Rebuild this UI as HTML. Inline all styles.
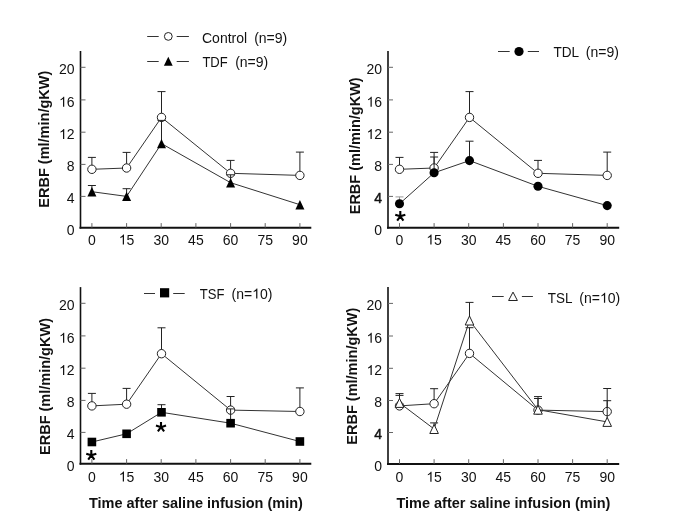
<!DOCTYPE html><html><head><meta charset="utf-8"><style>html,body{margin:0;padding:0;background:#fff;}svg{display:block;will-change:transform;}</style></head><body>
<svg width="685" height="527" viewBox="0 0 685 527" font-family='"Liberation Sans", sans-serif' fill="#111">
<rect width="685" height="527" fill="#fff"/>
<line x1="80.5" y1="51.0" x2="80.5" y2="228.6" stroke="#111" stroke-width="1.6"/>
<line x1="79.5" y1="227.8" x2="311.3" y2="227.8" stroke="#111" stroke-width="2"/>
<line x1="80.5" y1="196.4" x2="85.5" y2="196.4" stroke="#666" stroke-width="1"/>
<line x1="80.5" y1="164.4" x2="85.5" y2="164.4" stroke="#666" stroke-width="1"/>
<line x1="80.5" y1="132.2" x2="85.5" y2="132.2" stroke="#666" stroke-width="1"/>
<line x1="80.5" y1="99.9" x2="85.5" y2="99.9" stroke="#666" stroke-width="1"/>
<line x1="80.5" y1="67.3" x2="85.5" y2="67.3" stroke="#666" stroke-width="1"/>
<line x1="91.9" y1="227.6" x2="91.9" y2="223.1" stroke="#666" stroke-width="1"/>
<line x1="126.6" y1="227.6" x2="126.6" y2="223.1" stroke="#666" stroke-width="1"/>
<line x1="161.2" y1="227.6" x2="161.2" y2="223.1" stroke="#666" stroke-width="1"/>
<line x1="195.9" y1="227.6" x2="195.9" y2="223.1" stroke="#666" stroke-width="1"/>
<line x1="230.6" y1="227.6" x2="230.6" y2="223.1" stroke="#666" stroke-width="1"/>
<line x1="265.2" y1="227.6" x2="265.2" y2="223.1" stroke="#666" stroke-width="1"/>
<line x1="299.9" y1="227.6" x2="299.9" y2="223.1" stroke="#666" stroke-width="1"/>
<text x="66.81" y="234.60" font-size="14" xml:space="preserve">0</text>
<text x="66.81" y="203.20" font-size="14" xml:space="preserve">4</text>
<text x="66.81" y="171.20" font-size="14" xml:space="preserve">8</text>
<path d="M763 0L583 0L583 1147Q518 1085 412 1023Q306 961 222 930L222 1104Q373 1175 486 1276Q599 1377 646 1472L763 1472Z" transform="translate(59.03,139.00) scale(0.00684,-0.00684)" fill="#111"/>
<text x="66.81" y="139.00" font-size="14" xml:space="preserve">2</text>
<path d="M763 0L583 0L583 1147Q518 1085 412 1023Q306 961 222 930L222 1104Q373 1175 486 1276Q599 1377 646 1472L763 1472Z" transform="translate(59.03,106.70) scale(0.00684,-0.00684)" fill="#111"/>
<text x="66.81" y="106.70" font-size="14" xml:space="preserve">6</text>
<text x="59.03" y="74.10" font-size="14" xml:space="preserve">20</text>
<text x="88.01" y="244.60" font-size="14" xml:space="preserve">0</text>
<path d="M763 0L583 0L583 1147Q518 1085 412 1023Q306 961 222 930L222 1104Q373 1175 486 1276Q599 1377 646 1472L763 1472Z" transform="translate(118.78,244.60) scale(0.00684,-0.00684)" fill="#111"/>
<text x="126.56" y="244.60" font-size="14" xml:space="preserve">5</text>
<text x="153.44" y="244.60" font-size="14" xml:space="preserve">30</text>
<text x="188.11" y="244.60" font-size="14" xml:space="preserve">45</text>
<text x="222.77" y="244.60" font-size="14" xml:space="preserve">60</text>
<text x="257.44" y="244.60" font-size="14" xml:space="preserve">75</text>
<text x="292.10" y="244.60" font-size="14" xml:space="preserve">90</text>
<text transform="translate(49.2,139.2) rotate(-90)" font-size="14.5" font-weight="bold" text-anchor="middle">ERBF (ml/min/gKW)</text>
<line x1="91.9" y1="169.3" x2="91.9" y2="157.4" stroke="#222" stroke-width="1"/>
<line x1="87.9" y1="157.4" x2="95.9" y2="157.4" stroke="#222" stroke-width="1"/>
<line x1="126.6" y1="168.0" x2="126.6" y2="152.4" stroke="#222" stroke-width="1"/>
<line x1="122.6" y1="152.4" x2="130.6" y2="152.4" stroke="#222" stroke-width="1"/>
<line x1="161.5" y1="117.4" x2="161.5" y2="91.6" stroke="#222" stroke-width="1"/>
<line x1="157.5" y1="91.6" x2="165.5" y2="91.6" stroke="#222" stroke-width="1"/>
<line x1="230.6" y1="173.3" x2="230.6" y2="160.4" stroke="#222" stroke-width="1"/>
<line x1="226.6" y1="160.4" x2="234.6" y2="160.4" stroke="#222" stroke-width="1"/>
<line x1="299.9" y1="175.4" x2="299.9" y2="152.1" stroke="#222" stroke-width="1"/>
<line x1="295.9" y1="152.1" x2="303.9" y2="152.1" stroke="#222" stroke-width="1"/>
<polyline points="91.9,169.3 126.6,168.0 161.5,117.4 230.6,173.3 299.9,175.4" fill="none" stroke="#333" stroke-width="1"/>
<circle cx="91.9" cy="169.3" r="4.2" fill="#fff" stroke="#222" stroke-width="1"/>
<circle cx="126.6" cy="168.0" r="4.2" fill="#fff" stroke="#222" stroke-width="1"/>
<circle cx="161.5" cy="117.4" r="4.2" fill="#fff" stroke="#222" stroke-width="1"/>
<circle cx="230.6" cy="173.3" r="4.2" fill="#fff" stroke="#222" stroke-width="1"/>
<circle cx="299.9" cy="175.4" r="4.2" fill="#fff" stroke="#222" stroke-width="1"/>
<line x1="91.9" y1="191.7" x2="91.9" y2="185.5" stroke="#222" stroke-width="1"/>
<line x1="87.9" y1="185.5" x2="95.9" y2="185.5" stroke="#222" stroke-width="1"/>
<line x1="126.6" y1="196.4" x2="126.6" y2="188.7" stroke="#222" stroke-width="1"/>
<line x1="122.6" y1="188.7" x2="130.6" y2="188.7" stroke="#222" stroke-width="1"/>
<line x1="161.5" y1="143.6" x2="161.5" y2="120.4" stroke="#222" stroke-width="1"/>
<line x1="157.5" y1="120.4" x2="165.5" y2="120.4" stroke="#222" stroke-width="1"/>
<line x1="230.6" y1="182.7" x2="230.6" y2="174.8" stroke="#222" stroke-width="1"/>
<line x1="226.6" y1="174.8" x2="234.6" y2="174.8" stroke="#222" stroke-width="1"/>
<polyline points="91.9,191.7 126.6,196.4 161.5,143.6 230.6,182.7 299.9,204.7" fill="none" stroke="#333" stroke-width="1"/>
<polygon points="87.4,196.4 96.4,196.4 91.9,187.0" fill="#000"/>
<polygon points="122.1,201.1 131.1,201.1 126.6,191.7" fill="#000"/>
<polygon points="157.0,148.3 166.0,148.3 161.5,138.9" fill="#000"/>
<polygon points="226.1,187.4 235.1,187.4 230.6,178.0" fill="#000"/>
<polygon points="295.4,209.4 304.4,209.4 299.9,200.0" fill="#000"/>
<line x1="147.2" y1="36.5" x2="158.7" y2="36.5" stroke="#333" stroke-width="1"/>
<circle cx="168.3" cy="36.4" r="3.9" fill="#fff" stroke="#222" stroke-width="1"/>
<line x1="176.7" y1="36.5" x2="188.9" y2="36.5" stroke="#333" stroke-width="1"/>
<text transform="translate(201.99,42.90) scale(1.0004,1)" font-size="14">Control</text>
<text x="254.13" y="42.90" font-size="14" xml:space="preserve">(n=9)</text>
<line x1="147.2" y1="61.5" x2="158.7" y2="61.5" stroke="#333" stroke-width="1"/>
<polygon points="163.9,65.8 172.7,65.8 168.3,56.8" fill="#000"/>
<line x1="176.7" y1="61.5" x2="188.9" y2="61.5" stroke="#333" stroke-width="1"/>
<text transform="translate(202.41,67.20) scale(0.9302,1)" font-size="14">TDF</text>
<text x="235.13" y="67.20" font-size="14" xml:space="preserve">(n=9)</text>
<line x1="388.0" y1="51.0" x2="388.0" y2="228.6" stroke="#111" stroke-width="1.6"/>
<line x1="387.0" y1="227.8" x2="619.2" y2="227.8" stroke="#111" stroke-width="2"/>
<line x1="388.0" y1="196.4" x2="393.0" y2="196.4" stroke="#666" stroke-width="1"/>
<line x1="388.0" y1="164.4" x2="393.0" y2="164.4" stroke="#666" stroke-width="1"/>
<line x1="388.0" y1="132.2" x2="393.0" y2="132.2" stroke="#666" stroke-width="1"/>
<line x1="388.0" y1="99.9" x2="393.0" y2="99.9" stroke="#666" stroke-width="1"/>
<line x1="388.0" y1="67.3" x2="393.0" y2="67.3" stroke="#666" stroke-width="1"/>
<line x1="399.5" y1="227.6" x2="399.5" y2="223.1" stroke="#666" stroke-width="1"/>
<line x1="434.1" y1="227.6" x2="434.1" y2="223.1" stroke="#666" stroke-width="1"/>
<line x1="468.7" y1="227.6" x2="468.7" y2="223.1" stroke="#666" stroke-width="1"/>
<line x1="503.4" y1="227.6" x2="503.4" y2="223.1" stroke="#666" stroke-width="1"/>
<line x1="538.0" y1="227.6" x2="538.0" y2="223.1" stroke="#666" stroke-width="1"/>
<line x1="572.6" y1="227.6" x2="572.6" y2="223.1" stroke="#666" stroke-width="1"/>
<line x1="607.2" y1="227.6" x2="607.2" y2="223.1" stroke="#666" stroke-width="1"/>
<text x="374.31" y="234.60" font-size="14" xml:space="preserve">0</text>
<text x="374.31" y="203.20" font-size="14" xml:space="preserve" stroke="#111" stroke-width="0.45">4</text>
<text x="374.31" y="171.20" font-size="14" xml:space="preserve">8</text>
<path d="M763 0L583 0L583 1147Q518 1085 412 1023Q306 961 222 930L222 1104Q373 1175 486 1276Q599 1377 646 1472L763 1472Z" transform="translate(366.53,139.00) scale(0.00684,-0.00684)" fill="#111"/>
<text x="374.31" y="139.00" font-size="14" xml:space="preserve">2</text>
<path d="M763 0L583 0L583 1147Q518 1085 412 1023Q306 961 222 930L222 1104Q373 1175 486 1276Q599 1377 646 1472L763 1472Z" transform="translate(366.53,106.70) scale(0.00684,-0.00684)" fill="#111"/>
<text x="374.31" y="106.70" font-size="14" xml:space="preserve">6</text>
<text x="366.53" y="74.10" font-size="14" xml:space="preserve">20</text>
<text x="395.61" y="244.60" font-size="14" xml:space="preserve">0</text>
<path d="M763 0L583 0L583 1147Q518 1085 412 1023Q306 961 222 930L222 1104Q373 1175 486 1276Q599 1377 646 1472L763 1472Z" transform="translate(426.33,244.60) scale(0.00684,-0.00684)" fill="#111"/>
<text x="434.12" y="244.60" font-size="14" xml:space="preserve">5</text>
<text x="460.95" y="244.60" font-size="14" xml:space="preserve">30</text>
<text x="495.57" y="244.60" font-size="14" xml:space="preserve">45</text>
<text x="530.19" y="244.60" font-size="14" xml:space="preserve">60</text>
<text x="564.81" y="244.60" font-size="14" xml:space="preserve">75</text>
<text x="599.43" y="244.60" font-size="14" xml:space="preserve">90</text>
<text transform="translate(359.8,145.8) rotate(-90)" font-size="14.5" font-weight="bold" text-anchor="middle">ERBF (ml/min/gKW)</text>
<line x1="399.5" y1="169.3" x2="399.5" y2="157.4" stroke="#222" stroke-width="1"/>
<line x1="395.5" y1="157.4" x2="403.5" y2="157.4" stroke="#222" stroke-width="1"/>
<line x1="434.1" y1="168.0" x2="434.1" y2="152.4" stroke="#222" stroke-width="1"/>
<line x1="430.1" y1="152.4" x2="438.1" y2="152.4" stroke="#222" stroke-width="1"/>
<line x1="469.5" y1="117.4" x2="469.5" y2="91.6" stroke="#222" stroke-width="1"/>
<line x1="465.5" y1="91.6" x2="473.5" y2="91.6" stroke="#222" stroke-width="1"/>
<line x1="538.0" y1="173.3" x2="538.0" y2="160.4" stroke="#222" stroke-width="1"/>
<line x1="534.0" y1="160.4" x2="542.0" y2="160.4" stroke="#222" stroke-width="1"/>
<line x1="607.2" y1="175.4" x2="607.2" y2="152.1" stroke="#222" stroke-width="1"/>
<line x1="603.2" y1="152.1" x2="611.2" y2="152.1" stroke="#222" stroke-width="1"/>
<polyline points="399.5,169.3 434.1,168.0 469.5,117.4 538.0,173.3 607.2,175.4" fill="none" stroke="#333" stroke-width="1"/>
<circle cx="399.5" cy="169.3" r="4.2" fill="#fff" stroke="#222" stroke-width="1"/>
<circle cx="434.1" cy="168.0" r="4.2" fill="#fff" stroke="#222" stroke-width="1"/>
<circle cx="469.5" cy="117.4" r="4.2" fill="#fff" stroke="#222" stroke-width="1"/>
<circle cx="538.0" cy="173.3" r="4.2" fill="#fff" stroke="#222" stroke-width="1"/>
<circle cx="607.2" cy="175.4" r="4.2" fill="#fff" stroke="#222" stroke-width="1"/>
<line x1="399.5" y1="203.8" x2="399.5" y2="196.9" stroke="#999" stroke-width="1"/>
<line x1="395.5" y1="196.9" x2="403.5" y2="196.9" stroke="#999" stroke-width="1"/>
<line x1="434.1" y1="172.8" x2="434.1" y2="157.0" stroke="#222" stroke-width="1"/>
<line x1="430.1" y1="157.0" x2="438.1" y2="157.0" stroke="#222" stroke-width="1"/>
<line x1="469.5" y1="160.6" x2="469.5" y2="141.2" stroke="#222" stroke-width="1"/>
<line x1="465.5" y1="141.2" x2="473.5" y2="141.2" stroke="#222" stroke-width="1"/>
<polyline points="399.5,203.8 434.1,172.8 469.5,160.6 538.0,186.3 607.2,205.6" fill="none" stroke="#333" stroke-width="1"/>
<circle cx="399.5" cy="203.8" r="4.55" fill="#000"/>
<circle cx="434.1" cy="172.8" r="4.55" fill="#000"/>
<circle cx="469.5" cy="160.6" r="4.55" fill="#000"/>
<circle cx="538.0" cy="186.3" r="4.55" fill="#000"/>
<circle cx="607.2" cy="205.6" r="4.55" fill="#000"/>
<path d="M400.30,216.30L400.30,211.00M400.30,216.30L405.34,214.66M400.30,216.30L395.26,214.66M400.30,216.30L403.42,220.59M400.30,216.30L397.18,220.59" stroke="#000" stroke-width="2.1" fill="none"/>
<line x1="498.0" y1="51.5" x2="509.7" y2="51.5" stroke="#333" stroke-width="1"/>
<circle cx="519.0" cy="51.5" r="4.6" fill="#000"/>
<line x1="527.8" y1="51.5" x2="539.0" y2="51.5" stroke="#333" stroke-width="1"/>
<text transform="translate(553.49,57.40) scale(0.9700,1)" font-size="14">TDL</text>
<text x="585.83" y="57.40" font-size="14" xml:space="preserve">(n=9)</text>
<line x1="80.5" y1="287.1" x2="80.5" y2="464.6" stroke="#111" stroke-width="1.6"/>
<line x1="79.5" y1="463.8" x2="311.3" y2="463.8" stroke="#111" stroke-width="2"/>
<line x1="80.5" y1="432.4" x2="85.5" y2="432.4" stroke="#666" stroke-width="1"/>
<line x1="80.5" y1="400.4" x2="85.5" y2="400.4" stroke="#666" stroke-width="1"/>
<line x1="80.5" y1="368.2" x2="85.5" y2="368.2" stroke="#666" stroke-width="1"/>
<line x1="80.5" y1="335.9" x2="85.5" y2="335.9" stroke="#666" stroke-width="1"/>
<line x1="80.5" y1="303.3" x2="85.5" y2="303.3" stroke="#666" stroke-width="1"/>
<line x1="91.9" y1="463.6" x2="91.9" y2="459.1" stroke="#666" stroke-width="1"/>
<line x1="126.6" y1="463.6" x2="126.6" y2="459.1" stroke="#666" stroke-width="1"/>
<line x1="161.2" y1="463.6" x2="161.2" y2="459.1" stroke="#666" stroke-width="1"/>
<line x1="195.9" y1="463.6" x2="195.9" y2="459.1" stroke="#666" stroke-width="1"/>
<line x1="230.6" y1="463.6" x2="230.6" y2="459.1" stroke="#666" stroke-width="1"/>
<line x1="265.2" y1="463.6" x2="265.2" y2="459.1" stroke="#666" stroke-width="1"/>
<line x1="299.9" y1="463.6" x2="299.9" y2="459.1" stroke="#666" stroke-width="1"/>
<text x="66.81" y="470.60" font-size="14" xml:space="preserve">0</text>
<text x="66.81" y="439.20" font-size="14" xml:space="preserve">4</text>
<text x="66.81" y="407.20" font-size="14" xml:space="preserve">8</text>
<path d="M763 0L583 0L583 1147Q518 1085 412 1023Q306 961 222 930L222 1104Q373 1175 486 1276Q599 1377 646 1472L763 1472Z" transform="translate(59.03,375.00) scale(0.00684,-0.00684)" fill="#111"/>
<text x="66.81" y="375.00" font-size="14" xml:space="preserve">2</text>
<path d="M763 0L583 0L583 1147Q518 1085 412 1023Q306 961 222 930L222 1104Q373 1175 486 1276Q599 1377 646 1472L763 1472Z" transform="translate(59.03,342.70) scale(0.00684,-0.00684)" fill="#111"/>
<text x="66.81" y="342.70" font-size="14" xml:space="preserve">6</text>
<text x="59.03" y="310.10" font-size="14" xml:space="preserve">20</text>
<text x="88.01" y="481.60" font-size="14" xml:space="preserve">0</text>
<path d="M763 0L583 0L583 1147Q518 1085 412 1023Q306 961 222 930L222 1104Q373 1175 486 1276Q599 1377 646 1472L763 1472Z" transform="translate(118.78,481.60) scale(0.00684,-0.00684)" fill="#111"/>
<text x="126.56" y="481.60" font-size="14" xml:space="preserve">5</text>
<text x="153.44" y="481.60" font-size="14" xml:space="preserve">30</text>
<text x="188.11" y="481.60" font-size="14" xml:space="preserve">45</text>
<text x="222.77" y="481.60" font-size="14" xml:space="preserve">60</text>
<text x="257.44" y="481.60" font-size="14" xml:space="preserve">75</text>
<text x="292.10" y="481.60" font-size="14" xml:space="preserve">90</text>
<text transform="translate(50.0,386.5) rotate(-90)" font-size="14.5" font-weight="bold" text-anchor="middle">ERBF (ml/min/gKW)</text>
<text x="195.9" y="507.6" font-size="14.5" font-weight="bold" text-anchor="middle">Time after saline infusion (min)</text>
<line x1="91.9" y1="405.9" x2="91.9" y2="393.4" stroke="#222" stroke-width="1"/>
<line x1="87.9" y1="393.4" x2="95.9" y2="393.4" stroke="#222" stroke-width="1"/>
<line x1="126.6" y1="404.2" x2="126.6" y2="388.4" stroke="#222" stroke-width="1"/>
<line x1="122.6" y1="388.4" x2="130.6" y2="388.4" stroke="#222" stroke-width="1"/>
<line x1="161.5" y1="353.7" x2="161.5" y2="327.8" stroke="#222" stroke-width="1"/>
<line x1="157.5" y1="327.8" x2="165.5" y2="327.8" stroke="#222" stroke-width="1"/>
<line x1="230.6" y1="410.1" x2="230.6" y2="396.5" stroke="#222" stroke-width="1"/>
<line x1="226.6" y1="396.5" x2="234.6" y2="396.5" stroke="#222" stroke-width="1"/>
<line x1="299.9" y1="411.5" x2="299.9" y2="387.9" stroke="#222" stroke-width="1"/>
<line x1="295.9" y1="387.9" x2="303.9" y2="387.9" stroke="#222" stroke-width="1"/>
<polyline points="91.9,405.9 126.6,404.2 161.5,353.7 230.6,410.1 299.9,411.5" fill="none" stroke="#333" stroke-width="1"/>
<circle cx="91.9" cy="405.9" r="4.2" fill="#fff" stroke="#222" stroke-width="1"/>
<circle cx="126.6" cy="404.2" r="4.2" fill="#fff" stroke="#222" stroke-width="1"/>
<circle cx="161.5" cy="353.7" r="4.2" fill="#fff" stroke="#222" stroke-width="1"/>
<circle cx="230.6" cy="410.1" r="4.2" fill="#fff" stroke="#222" stroke-width="1"/>
<circle cx="299.9" cy="411.5" r="4.2" fill="#fff" stroke="#222" stroke-width="1"/>
<line x1="161.5" y1="412.3" x2="161.5" y2="404.7" stroke="#222" stroke-width="1"/>
<line x1="157.5" y1="404.7" x2="165.5" y2="404.7" stroke="#222" stroke-width="1"/>
<line x1="230.6" y1="423.2" x2="230.6" y2="408.9" stroke="#222" stroke-width="1"/>
<line x1="226.6" y1="408.9" x2="234.6" y2="408.9" stroke="#222" stroke-width="1"/>
<polyline points="91.9,442.0 126.6,433.8 161.5,412.3 230.6,423.2 299.9,441.5" fill="none" stroke="#333" stroke-width="1"/>
<rect x="87.6" y="437.7" width="8.6" height="8.6" fill="#000"/>
<rect x="122.3" y="429.5" width="8.6" height="8.6" fill="#000"/>
<rect x="157.2" y="408.0" width="8.6" height="8.6" fill="#000"/>
<rect x="226.3" y="418.9" width="8.6" height="8.6" fill="#000"/>
<rect x="295.6" y="437.2" width="8.6" height="8.6" fill="#000"/>
<path d="M91.30,455.30L91.30,450.00M91.30,455.30L96.34,453.66M91.30,455.30L86.26,453.66M91.30,455.30L94.42,459.59M91.30,455.30L88.18,459.59" stroke="#000" stroke-width="2.1" fill="none"/>
<path d="M161.00,427.20L161.00,421.90M161.00,427.20L166.04,425.56M161.00,427.20L155.96,425.56M161.00,427.20L164.12,431.49M161.00,427.20L157.88,431.49" stroke="#000" stroke-width="2.1" fill="none"/>
<line x1="144.0" y1="293.5" x2="155.0" y2="293.5" stroke="#333" stroke-width="1"/>
<rect x="160.0" y="288.2" width="9.2" height="9.2" fill="#000"/>
<line x1="173.2" y1="293.5" x2="184.7" y2="293.5" stroke="#333" stroke-width="1"/>
<text transform="translate(199.81,298.60) scale(0.9348,1)" font-size="14">TSF</text>
<text x="231.53" y="298.60" font-size="14" xml:space="preserve">(n=</text>
<path d="M763 0L583 0L583 1147Q518 1085 412 1023Q306 961 222 930L222 1104Q373 1175 486 1276Q599 1377 646 1472L763 1472Z" transform="translate(252.16,298.60) scale(0.00684,-0.00684)" fill="#111"/>
<text x="259.94" y="298.60" font-size="14" xml:space="preserve">0)</text>
<line x1="388.0" y1="287.1" x2="388.0" y2="464.7" stroke="#111" stroke-width="1.6"/>
<line x1="387.0" y1="463.9" x2="619.2" y2="463.9" stroke="#111" stroke-width="2"/>
<line x1="388.0" y1="432.5" x2="393.0" y2="432.5" stroke="#666" stroke-width="1"/>
<line x1="388.0" y1="400.5" x2="393.0" y2="400.5" stroke="#666" stroke-width="1"/>
<line x1="388.0" y1="368.3" x2="393.0" y2="368.3" stroke="#666" stroke-width="1"/>
<line x1="388.0" y1="336.0" x2="393.0" y2="336.0" stroke="#666" stroke-width="1"/>
<line x1="388.0" y1="303.4" x2="393.0" y2="303.4" stroke="#666" stroke-width="1"/>
<line x1="399.5" y1="463.7" x2="399.5" y2="459.2" stroke="#666" stroke-width="1"/>
<line x1="434.1" y1="463.7" x2="434.1" y2="459.2" stroke="#666" stroke-width="1"/>
<line x1="468.7" y1="463.7" x2="468.7" y2="459.2" stroke="#666" stroke-width="1"/>
<line x1="503.4" y1="463.7" x2="503.4" y2="459.2" stroke="#666" stroke-width="1"/>
<line x1="538.0" y1="463.7" x2="538.0" y2="459.2" stroke="#666" stroke-width="1"/>
<line x1="572.6" y1="463.7" x2="572.6" y2="459.2" stroke="#666" stroke-width="1"/>
<line x1="607.2" y1="463.7" x2="607.2" y2="459.2" stroke="#666" stroke-width="1"/>
<text x="374.31" y="470.70" font-size="14" xml:space="preserve">0</text>
<text x="374.31" y="439.30" font-size="14" xml:space="preserve" stroke="#111" stroke-width="0.45">4</text>
<text x="374.31" y="407.30" font-size="14" xml:space="preserve">8</text>
<path d="M763 0L583 0L583 1147Q518 1085 412 1023Q306 961 222 930L222 1104Q373 1175 486 1276Q599 1377 646 1472L763 1472Z" transform="translate(366.53,375.10) scale(0.00684,-0.00684)" fill="#111"/>
<text x="374.31" y="375.10" font-size="14" xml:space="preserve">2</text>
<path d="M763 0L583 0L583 1147Q518 1085 412 1023Q306 961 222 930L222 1104Q373 1175 486 1276Q599 1377 646 1472L763 1472Z" transform="translate(366.53,342.80) scale(0.00684,-0.00684)" fill="#111"/>
<text x="374.31" y="342.80" font-size="14" xml:space="preserve">6</text>
<text x="366.53" y="310.20" font-size="14" xml:space="preserve">20</text>
<text x="395.61" y="481.70" font-size="14" xml:space="preserve">0</text>
<path d="M763 0L583 0L583 1147Q518 1085 412 1023Q306 961 222 930L222 1104Q373 1175 486 1276Q599 1377 646 1472L763 1472Z" transform="translate(426.33,481.70) scale(0.00684,-0.00684)" fill="#111"/>
<text x="434.12" y="481.70" font-size="14" xml:space="preserve">5</text>
<text x="460.95" y="481.70" font-size="14" xml:space="preserve">30</text>
<text x="495.57" y="481.70" font-size="14" xml:space="preserve">45</text>
<text x="530.19" y="481.70" font-size="14" xml:space="preserve">60</text>
<text x="564.81" y="481.70" font-size="14" xml:space="preserve">75</text>
<text x="599.43" y="481.70" font-size="14" xml:space="preserve">90</text>
<text transform="translate(357.0,376.2) rotate(-90)" font-size="14.5" font-weight="bold" text-anchor="middle">ERBF (ml/min/gKW)</text>
<text x="503.4" y="507.7" font-size="14.5" font-weight="bold" text-anchor="middle">Time after saline infusion (min)</text>
<line x1="399.5" y1="405.9" x2="399.5" y2="393.6" stroke="#222" stroke-width="1"/>
<line x1="395.5" y1="393.6" x2="403.5" y2="393.6" stroke="#222" stroke-width="1"/>
<line x1="434.1" y1="403.7" x2="434.1" y2="388.7" stroke="#222" stroke-width="1"/>
<line x1="430.1" y1="388.7" x2="438.1" y2="388.7" stroke="#222" stroke-width="1"/>
<line x1="469.5" y1="353.4" x2="469.5" y2="327.7" stroke="#222" stroke-width="1"/>
<line x1="465.5" y1="327.7" x2="473.5" y2="327.7" stroke="#222" stroke-width="1"/>
<line x1="538.0" y1="410.1" x2="538.0" y2="396.6" stroke="#222" stroke-width="1"/>
<line x1="534.0" y1="396.6" x2="542.0" y2="396.6" stroke="#222" stroke-width="1"/>
<line x1="607.2" y1="411.6" x2="607.2" y2="388.5" stroke="#222" stroke-width="1"/>
<line x1="603.2" y1="388.5" x2="611.2" y2="388.5" stroke="#222" stroke-width="1"/>
<polyline points="399.5,405.9 434.1,403.7 469.5,353.4 538.0,410.1 607.2,411.6" fill="none" stroke="#333" stroke-width="1"/>
<circle cx="399.5" cy="405.9" r="4.2" fill="#fff" stroke="#222" stroke-width="1"/>
<circle cx="434.1" cy="403.7" r="4.2" fill="#fff" stroke="#222" stroke-width="1"/>
<circle cx="469.5" cy="353.4" r="4.2" fill="#fff" stroke="#222" stroke-width="1"/>
<circle cx="538.0" cy="410.1" r="4.2" fill="#fff" stroke="#222" stroke-width="1"/>
<circle cx="607.2" cy="411.6" r="4.2" fill="#fff" stroke="#222" stroke-width="1"/>
<line x1="399.5" y1="402.9" x2="399.5" y2="395.4" stroke="#222" stroke-width="1"/>
<line x1="395.5" y1="395.4" x2="403.5" y2="395.4" stroke="#222" stroke-width="1"/>
<line x1="434.1" y1="429.0" x2="434.1" y2="422.9" stroke="#222" stroke-width="1"/>
<line x1="430.1" y1="422.9" x2="438.1" y2="422.9" stroke="#222" stroke-width="1"/>
<line x1="469.5" y1="320.5" x2="469.5" y2="302.4" stroke="#222" stroke-width="1"/>
<line x1="465.5" y1="302.4" x2="473.5" y2="302.4" stroke="#222" stroke-width="1"/>
<line x1="538.0" y1="409.7" x2="538.0" y2="398.5" stroke="#222" stroke-width="1"/>
<line x1="534.0" y1="398.5" x2="542.0" y2="398.5" stroke="#222" stroke-width="1"/>
<line x1="607.2" y1="421.9" x2="607.2" y2="400.7" stroke="#222" stroke-width="1"/>
<line x1="603.2" y1="400.7" x2="611.2" y2="400.7" stroke="#222" stroke-width="1"/>
<polyline points="399.5,402.9 434.1,429.0 469.5,320.5 538.0,409.7 607.2,421.9" fill="none" stroke="#333" stroke-width="1"/>
<polygon points="395.2,407.4 403.8,407.4 399.5,398.4" fill="#fff" stroke="#222" stroke-width="1"/>
<polygon points="429.8,433.5 438.4,433.5 434.1,424.5" fill="#fff" stroke="#222" stroke-width="1"/>
<polygon points="465.2,325.0 473.8,325.0 469.5,316.0" fill="#fff" stroke="#222" stroke-width="1"/>
<polygon points="533.7,414.2 542.3,414.2 538.0,405.2" fill="#fff" stroke="#222" stroke-width="1"/>
<polygon points="602.9,426.4 611.5,426.4 607.2,417.4" fill="#fff" stroke="#222" stroke-width="1"/>
<line x1="492.0" y1="296.5" x2="503.7" y2="296.5" stroke="#333" stroke-width="1"/>
<polygon points="508.6,300.5 517.4,300.5 513.0,292.1" fill="#fff" stroke="#222" stroke-width="1"/>
<line x1="521.9" y1="296.5" x2="532.9" y2="296.5" stroke="#333" stroke-width="1"/>
<text transform="translate(547.80,302.80) scale(0.9600,1)" font-size="14">TSL</text>
<text x="579.33" y="302.80" font-size="14" xml:space="preserve">(n=</text>
<path d="M763 0L583 0L583 1147Q518 1085 412 1023Q306 961 222 930L222 1104Q373 1175 486 1276Q599 1377 646 1472L763 1472Z" transform="translate(599.96,302.80) scale(0.00684,-0.00684)" fill="#111"/>
<text x="607.74" y="302.80" font-size="14" xml:space="preserve">0)</text>
</svg></body></html>
